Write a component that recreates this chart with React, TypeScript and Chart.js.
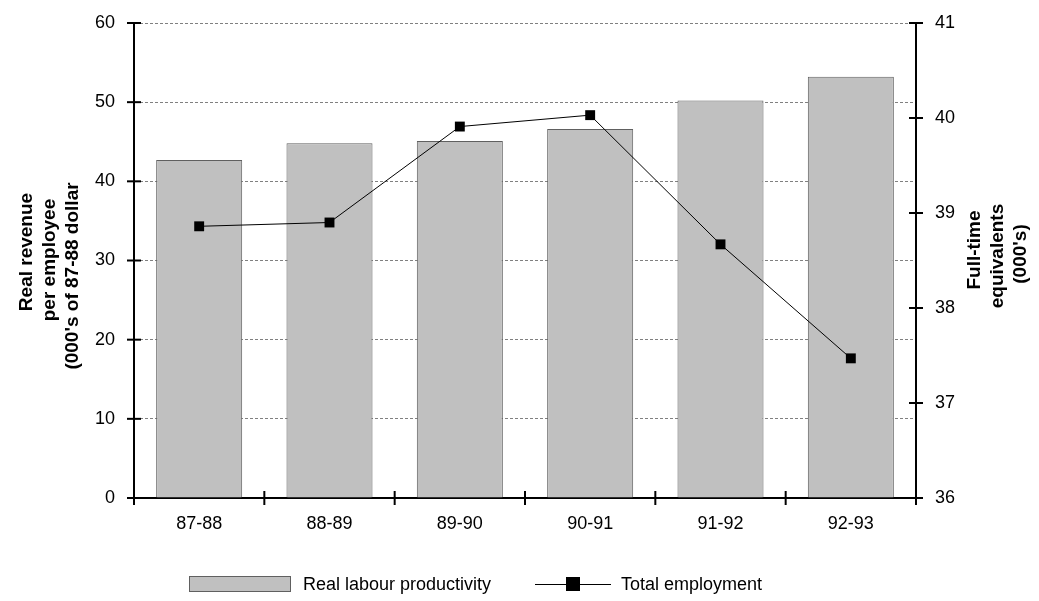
import React, { useEffect, useRef } from "react";
import { Chart, registerables } from "chart.js";

Chart.register(...registerables);

const categories = ["87-88", "88-89", "89-90", "90-91", "91-92", "92-93"];
const productivity = [42.7, 44.8, 45.1, 46.6, 50.2, 53.2];
const employment = [38.86, 38.9, 39.91, 40.03, 38.67, 37.47];
const leftTitle = ["Real revenue", "per employee", "(000's of 87-88 dollar"];
const rightTitle = ["Full-time", "equivalents", "(000's)"];
const legendLabels = ["Real labour productivity", "Total employment"];

const FONT = "'Liberation Sans', Arial, sans-serif";
const TICK_SIZE = 18;
const TITLE_SIZE = 19;

const decorPlugin = {
  id: "decor",
  afterDraw(chart: any) {
    const ctx = chart.ctx;
    const area = chart.chartArea;
    const x = chart.scales.x;
    const y = chart.scales.y;
    const y2 = chart.scales.y2;
    ctx.save();
    ctx.strokeStyle = "#000";
    ctx.lineWidth = 2;
    ctx.setLineDash([]);
    y.ticks.forEach((_t: any, i: number) => {
      const py = y.getPixelForTick(i);
      ctx.beginPath();
      ctx.moveTo(area.left - 7, py);
      ctx.lineTo(area.left + 7, py);
      ctx.stroke();
    });
    y2.ticks.forEach((_t: any, i: number) => {
      const py = y2.getPixelForTick(i);
      ctx.beginPath();
      ctx.moveTo(area.right - 7, py);
      ctx.lineTo(area.right + 7, py);
      ctx.stroke();
    });
    const n = categories.length;
    for (let i = 0; i <= n; i++) {
      const px = x.left + (i * x.width) / n;
      ctx.beginPath();
      ctx.moveTo(px, area.bottom - 7);
      ctx.lineTo(px, area.bottom + 7);
      ctx.stroke();
    }

    ctx.fillStyle = "#000";
    ctx.font = `bold ${TITLE_SIZE}px ${FONT}`;
    ctx.textAlign = "center";
    ctx.textBaseline = "middle";
    const leftXs = [27, 50, 73];
    const leftYs = [252, 260, 276];
    leftTitle.forEach((t, i) => {
      ctx.save();
      ctx.translate(leftXs[i], leftYs[i]);
      ctx.rotate(-Math.PI / 2);
      ctx.fillText(t, 0, 0);
      ctx.restore();
    });
    const rightXs = [975, 998, 1021];
    const rightYs = [250, 256, 254];
    rightTitle.forEach((t, i) => {
      ctx.save();
      ctx.translate(rightXs[i], rightYs[i]);
      ctx.rotate(-Math.PI / 2);
      ctx.fillText(t, 0, 0);
      ctx.restore();
    });

    const bar = chart.data.datasets[1];
    const line = chart.data.datasets[0];
    const ly = 584;
    ctx.fillStyle = bar.backgroundColor;
    ctx.fillRect(189, ly - 8, 102, 16);
    ctx.strokeStyle = bar.borderColor;
    ctx.lineWidth = 1;
    ctx.strokeRect(189.5, ly - 7.5, 101, 15);
    ctx.fillStyle = "#000";
    ctx.font = `${TICK_SIZE}px ${FONT}`;
    ctx.textAlign = "left";
    ctx.fillText(legendLabels[0], 303, ly + 1);
    ctx.strokeStyle = line.borderColor;
    ctx.beginPath();
    ctx.moveTo(535, ly + 0.5);
    ctx.lineTo(611, ly + 0.5);
    ctx.stroke();
    ctx.fillStyle = line.pointBackgroundColor;
    ctx.fillRect(573 - 7, ly - 7, 14, 14);
    ctx.fillStyle = "#000";
    ctx.fillText(legendLabels[1], 621, ly + 1);
    ctx.restore();
  },
};

export default function App() {
  const ref = useRef<HTMLCanvasElement>(null);
  useEffect(() => {
    const chart = new Chart(ref.current as HTMLCanvasElement, {
      data: {
        labels: categories,
        datasets: [
          {
            type: "line",
            label: legendLabels[1],
            data: employment,
            yAxisID: "y2",
            borderColor: "#000",
            borderWidth: 1,
            pointStyle: "rect",
            pointRadius: 7,
            pointBackgroundColor: "#000",
            pointBorderColor: "#000",
            pointBorderWidth: 0,
            order: 0,
          } as any,
          {
            type: "bar",
            label: legendLabels[0],
            data: productivity,
            yAxisID: "y",
            backgroundColor: "#c0c0c0",
            borderColor: "#606060",
            borderWidth: 1,
            barPercentage: 0.66,
            categoryPercentage: 1,
            order: 1,
          } as any,
        ],
      },
      options: {
        responsive: false,
        animation: false,
        layout: { padding: { top: 23, left: 0, right: 0, bottom: 0 } },
        plugins: { legend: { display: false }, tooltip: { enabled: false } },
        scales: {
          x: {
            offset: true,
            grid: { display: false, drawTicks: false },
            border: { display: true, color: "#000", width: 2 },
            ticks: { color: "#000", font: { family: FONT, size: TICK_SIZE }, padding: 15 },
            afterFit: (s: any) => {
              s.height = 103;
              s.paddingLeft = 0;
              s.paddingRight = 0;
            },
          },
          y: {
            position: "left",
            min: 0,
            max: 60,
            ticks: { stepSize: 10, color: "#000", font: { family: FONT, size: TICK_SIZE }, padding: 19 },
            grid: { color: "#808080", lineWidth: 1, drawTicks: false },
            border: { display: true, color: "#000", width: 2, dash: [3, 2] },
            afterFit: (s: any) => {
              s.width = 134;
              s.paddingTop = 0;
              s.paddingBottom = 0;
            },
          },
          y2: {
            position: "right",
            min: 36,
            max: 41,
            ticks: { stepSize: 1, color: "#000", font: { family: FONT, size: TICK_SIZE }, padding: 19 },
            grid: { display: false, drawTicks: false },
            border: { display: true, color: "#000", width: 2 },
            afterFit: (s: any) => {
              s.width = 123;
              s.paddingTop = 0;
              s.paddingBottom = 0;
            },
          },
        },
      } as any,
      plugins: [decorPlugin],
    });
    return () => chart.destroy();
  }, []);
  return (
    <div style={{ position: "fixed", left: 0, top: 0, width: 1039, height: 601, background: "#fff" }}>
      <canvas ref={ref} width={1039} height={601} />
    </div>
  );
}
